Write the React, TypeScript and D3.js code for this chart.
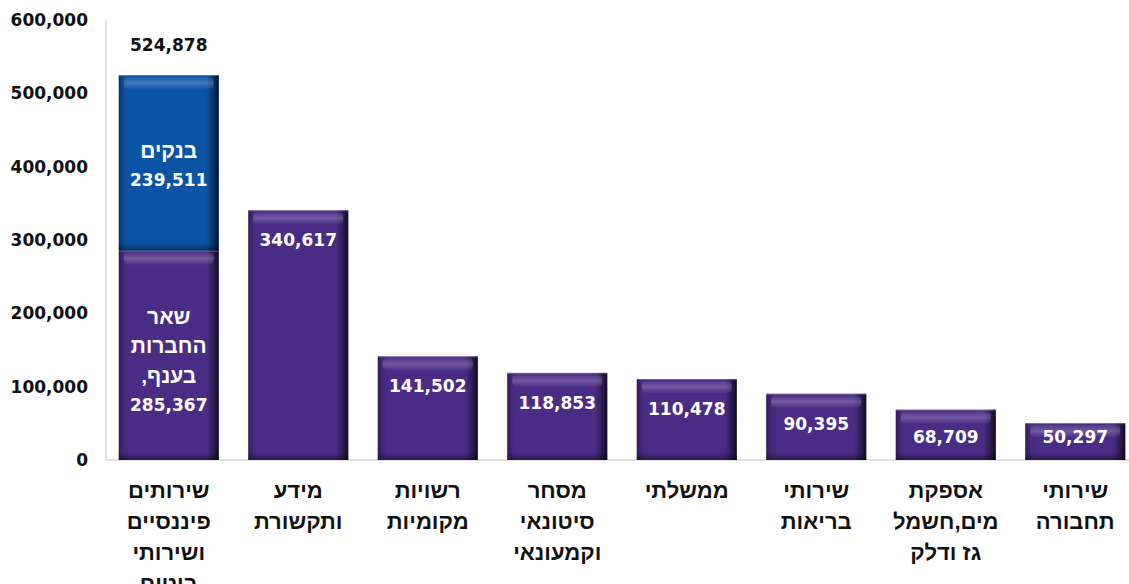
import React from "react";
import * as d3 from "d3";

const categories: string[][] = [
  ["שירותים", "פיננסיים", "ושירותי", "ביטוח"],
  ["מידע", "ותקשורת"],
  ["רשויות", "מקומיות"],
  ["מסחר", "סיטונאי", "וקמעונאי"],
  ["ממשלתי"],
  ["שירותי", "בריאות"],
  ["אספקת", "מים,חשמל", "גז ודלק"],
  ["שירותי", "תחבורה"],
];
const mainValues = [285367, 340617, 141502, 118853, 110478, 90395, 68709, 50297];
const bankValues = [239511, 0, 0, 0, 0, 0, 0, 0];
const yTicks = [0, 100000, 200000, 300000, 400000, 500000, 600000];
const firstBarLabel = ["שאר", "החברות", "בענף,"];
const bankLabel = "בנקים";

const W = 1129;
const H = 584;
const PURPLE = "#4b2c85";
const BLUE = "#0b53a5";
const fmt = d3.format(",");
const NUM_FONT = "'DejaVu Sans', sans-serif";
const HEB_FONT = "'Liberation Sans', Arial, sans-serif";

function Bevel({ x, y, w, h, color, id }: { x: number; y: number; w: number; h: number; color: string; id: string }) {
  const hl = Math.min(12, h / 3);
  return (
    <g>
      <rect x={x} y={y} width={w} height={h} fill={color} />
      <rect x={x} y={y} width={w} height={h} fill="url(#hshade)" />
      <rect x={x + 5} y={y + 2} width={w - 10} height={hl} rx={4} fill="url(#tophl)" />
      <rect x={x} y={y + h - Math.min(8, h / 4)} width={w} height={Math.min(8, h / 4)} fill="url(#botsh)" />
      <line x1={x} x2={x + w} y1={y + 0.5} y2={y + 0.5} stroke="#ffffff" strokeOpacity={0.25} />
    </g>
  );
}

export default function App() {
  const y = d3.scaleLinear().domain([0, 600000]).range([460, 20]);
  const x = d3
    .scaleBand<number>()
    .domain(d3.range(categories.length))
    .range([104, 1140])
    .paddingInner(0.228)
    .paddingOuter(0.114);
  const bw = x.bandwidth();
  const base = y(0);

  return (
    <svg width={W} height={H} style={{ position: "absolute", left: 0, top: 0 }}>
      <defs>
        <linearGradient id="hshade" x1="0" x2="1" y1="0" y2="0">
          <stop offset="0" stopColor="#000" stopOpacity={0.35} />
          <stop offset="0.05" stopColor="#000" stopOpacity={0.08} />
          <stop offset="0.1" stopColor="#000" stopOpacity={0} />
          <stop offset="0.88" stopColor="#000" stopOpacity={0} />
          <stop offset="0.95" stopColor="#000" stopOpacity={0.4} />
          <stop offset="1" stopColor="#000" stopOpacity={0.75} />
        </linearGradient>
        <linearGradient id="tophl" x1="0" x2="0" y1="0" y2="1">
          <stop offset="0" stopColor="#fff" stopOpacity={0.05} />
          <stop offset="0.5" stopColor="#fff" stopOpacity={0.22} />
          <stop offset="1" stopColor="#fff" stopOpacity={0.02} />
        </linearGradient>
        <linearGradient id="botsh" x1="0" x2="0" y1="0" y2="1">
          <stop offset="0" stopColor="#000" stopOpacity={0} />
          <stop offset="1" stopColor="#000" stopOpacity={0.4} />
        </linearGradient>
      </defs>

      {/* axes */}
      <line x1={106} x2={106} y1={20} y2={base} stroke="#d9d9d9" strokeWidth={1.5} />
      <line x1={106} x2={W} y1={base} y2={base} stroke="#d9d9d9" strokeWidth={1.5} />

      {yTicks.map((t) => (
        <text
          key={t}
          x={88}
          y={y(t)}
          dy="0.36em"
          textAnchor="end"
          fontFamily={NUM_FONT}
          fontWeight="bold"
          fontSize={17}
          fill="#111"
        >
          {fmt(t)}
        </text>
      ))}

      {mainValues.map((v, i) => {
        const bx = x(i)!;
        const top = y(v);
        const h = base - top;
        return (
          <g key={i}>
            <Bevel x={bx} y={top} w={bw} h={h} color={PURPLE} id={`m${i}`} />
            {bankValues[i] > 0 && (
              <Bevel
                x={bx}
                y={y(v + bankValues[i])}
                w={bw}
                h={top - y(v + bankValues[i])}
                color={BLUE}
                id={`b${i}`}
              />
            )}
          </g>
        );
      })}

      {/* value labels */}
      {mainValues.map((v, i) => {
        const cx = x(i)! + bw / 2;
        if (bankValues[i] > 0) {
          const top = y(v);
          const mid = (top + base) / 2 + 5;
          const lines = [...firstBarLabel];
          const bTop = y(v + bankValues[i]);
          const bMid = (bTop + top) / 2;
          return (
            <g key={i} fill="#fff" fontWeight="bold" textAnchor="middle">
              {lines.map((l, k) => (
                <text
                  key={k}
                  x={cx}
                  y={mid + (k - 1.5) * 29.5}
                  dy="0.36em"
                  fontFamily={HEB_FONT}
                  fontSize={21}
                  direction="rtl"
                  style={{ unicodeBidi: "plaintext" } as any}
                >
                  {l}
                </text>
              ))}
              <text x={cx} y={mid + 1.5 * 29.5} dy="0.36em" fontFamily={NUM_FONT} fontSize={17}>
                {fmt(v)}
              </text>
              <text x={cx} y={bMid - 12} dy="0.36em" fontFamily={HEB_FONT} fontSize={21} direction="rtl">
                {bankLabel}
              </text>
              <text x={cx} y={bMid + 17} dy="0.36em" fontFamily={NUM_FONT} fontSize={17}>
                {fmt(bankValues[i])}
              </text>
              <text
                x={cx}
                y={bTop - 30}
                dy="0.36em"
                fontFamily={NUM_FONT}
                fontSize={17}
                fill="#111"
              >
                {fmt(v + bankValues[i])}
              </text>
            </g>
          );
        }
        const ly = Math.min(y(v) + 30, base - 23);
        return (
          <text
            key={i}
            x={cx}
            y={ly}
            dy="0.36em"
            textAnchor="middle"
            fontFamily={NUM_FONT}
            fontWeight="bold"
            fontSize={17}
            fill="#fff"
          >
            {fmt(v)}
          </text>
        );
      })}

      {/* category labels */}
      {categories.map((lines, i) => {
        const cx = x(i)! + bw / 2;
        return (
          <g key={i}>
            {lines.map((l, k) => (
              <text
                key={k}
                x={cx}
                y={490 + k * 31}
                dy="0.36em"
                textAnchor="middle"
                direction="rtl"
                fontFamily={HEB_FONT}
                fontWeight="bold"
                fontSize={22}
                fill="#111"
              >
                {l}
              </text>
            ))}
          </g>
        );
      })}
    </svg>
  );
}
